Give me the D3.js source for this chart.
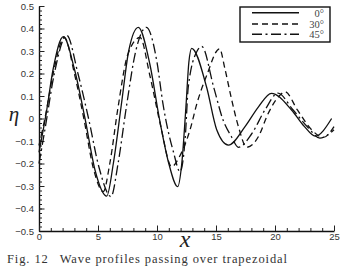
<!DOCTYPE html>
<html>
<head>
<meta charset="utf-8">
<script src="https://cdn.jsdelivr.net/npm/d3@7"></script>
<style>
    body { margin: 0; background: #fff; }
    svg { display: block; }
    .tick text { font-family: "Liberation Sans", Arial, sans-serif; font-size: 9.5px; fill: #333; }
</style>
</head>
<body>
<svg id="chart" width="341" height="270"></svg>
<script>
// wave elevation, one pair of arrays per angle
const x0 = [0, 0.6, 1.2, 2.06, 3.0, 3.9, 4.75, 5.74, 6.3, 7.0, 7.6, 8.42, 9.4, 10.2, 11.0, 11.75, 12.1, 12.45, 12.7, 12.94, 14.2, 15.06, 16.05, 17.46, 18.6, 19.7, 21.4, 22.5, 23.4, 24.8];
const eta0 = [-0.15, 0.02, 0.22, 0.364, 0.22, 0.0, -0.23, -0.345, -0.2, 0.07, 0.3, 0.405, 0.24, 0.0, -0.2, -0.303, -0.2, 0.05, 0.25, 0.312, 0.14, -0.05, -0.118, -0.036, 0.052, 0.112, 0.038, -0.036, -0.078, 0.0];

const x30 = [0, 0.5, 1.2, 2.15, 3.0, 3.8, 4.6, 5.45, 6.0, 6.7, 7.5, 8.56, 9.4, 10.3, 11.24, 11.9, 12.8, 13.4, 14.2, 15.3, 15.76, 16.3, 16.9, 17.6, 18.6, 19.4, 20.3, 20.85, 21.9, 23.1, 24.1, 25];
const eta30 = [-0.12, 0.0, 0.2, 0.36, 0.2, 0.0, -0.22, -0.325, -0.2, 0.05, 0.28, 0.36, 0.19, -0.03, -0.214, -0.17, -0.05, 0.07, 0.19, 0.31, 0.22, 0.09, -0.036, -0.128, -0.08, 0.02, 0.097, 0.119, 0.038, -0.05, -0.084, -0.036];

const x45 = [0, 0.5, 1.3, 2.35, 3.3, 4.2, 5.1, 6.1, 6.7, 7.4, 8.2, 9.1, 10.0, 10.5, 11.4, 11.95, 12.4, 12.65, 13.4, 13.8, 14.8, 15.6, 16.3, 16.9, 18.0, 19.15, 20.25, 21.5, 22.8, 23.8, 25];
const eta45 = [-0.2, -0.05, 0.2, 0.37, 0.2, 0.0, -0.22, -0.347, -0.2, 0.05, 0.3, 0.405, 0.25, 0.067, -0.15, -0.236, -0.08, 0.14, 0.3, 0.32, 0.14, -0.007, -0.08, -0.128, -0.07, 0.038, 0.113, 0.04, -0.04, -0.087, -0.05];

const seriesNames = ["0°", "30°", "45°"];
const dashes = [null, "6,4", "10,3.5,2,3.5"];

const xTicks = [0, 5, 10, 15, 20, 25];
const yTicks = [-0.5, -0.4, -0.3, -0.2, -0.1, 0, 0.1, 0.2, 0.3, 0.4, 0.5];

const caption = "Fig. 12\u2002 Wave profiles passing over trapezoidal";

const svg = d3.select("#chart");

const x = d3.scaleLinear().domain([0, 25]).range([39, 334]);
const y = d3.scaleLinear().domain([-0.5, 0.5]).range([231, 6]);

const series = [
    {name: seriesNames[0], dash: dashes[0], pts: x0.map((v, i) => [v, eta0[i]])},
    {name: seriesNames[1], dash: dashes[1], pts: x30.map((v, i) => [v, eta30[i]])},
    {name: seriesNames[2], dash: dashes[2], pts: x45.map((v, i) => [v, eta45[i]])}
];

// axes: ticks point inward, minor ticks drawn as a second axis
const yMinor = d3.range(-0.5, 0.5001, 0.02);
const xMinor = d3.range(0, 25.001, 1);

svg.append("g")
    .attr("transform", `translate(${x(0)},0)`)
    .call(d3.axisLeft(y).tickValues(yMinor).tickSize(-3).tickSizeOuter(0).tickFormat(""))
    .call(g => g.select(".domain").remove());

svg.append("g")
    .attr("transform", `translate(${x(0)},0)`)
    .call(d3.axisLeft(y).tickValues(yTicks).tickSize(-5.5).tickSizeOuter(0).tickPadding(5)
        .tickFormat(d => d === 0 ? "0" : d3.format(".1f")(d)));

svg.append("g")
    .attr("transform", `translate(0,${y(-0.5)})`)
    .call(d3.axisBottom(x).tickValues(xMinor).tickSize(-3).tickSizeOuter(0).tickFormat(""))
    .call(g => g.select(".domain").remove());

svg.append("g")
    .attr("transform", `translate(0,${y(-0.5)})`)
    .call(d3.axisBottom(x).tickValues(xTicks).tickSize(-5.5).tickSizeOuter(0).tickPadding(2));

svg.selectAll(".domain").attr("stroke", "#111").attr("stroke-width", 1.4);
svg.selectAll(".tick line").attr("stroke", "#222");

// profiles
const line = d3.line()
    .x(d => x(d[0]))
    .y(d => y(d[1]))
    .curve(d3.curveMonotoneX);

svg.append("g")
    .selectAll("path")
    .data(series)
    .join("path")
    .attr("d", d => line(d.pts))
    .attr("fill", "none")
    .attr("stroke", "#111")
    .attr("stroke-width", 1.3)
    .attr("stroke-dasharray", d => d.dash);

// legend
const legend = svg.append("g");
legend.append("rect")
    .attr("x", 240).attr("y", 7)
    .attr("width", 90).attr("height", 35)
    .attr("fill", "#fff")
    .attr("stroke", "#111")
    .attr("stroke-width", 1.4);

const rowY = [12.7, 24, 34.3];
legend.selectAll("line")
    .data(series)
    .join("line")
    .attr("x1", 252).attr("x2", 299)
    .attr("y1", (d, i) => rowY[i]).attr("y2", (d, i) => rowY[i])
    .attr("stroke", "#111")
    .attr("stroke-width", 1.5)
    .attr("stroke-dasharray", d => d.dash);

legend.selectAll("text")
    .data(series)
    .join("text")
    .attr("x", 324)
    .attr("y", (d, i) => rowY[i] + 4)
    .attr("text-anchor", "end")
    .attr("font-family", "Liberation Serif, serif")
    .attr("font-size", 10.5)
    .attr("fill", "#444")
    .text(d => d.name);

// axis titles
svg.append("text")
    .attr("x", 14).attr("y", 121)
    .attr("text-anchor", "middle")
    .attr("font-family", "Liberation Serif, serif")
    .attr("font-style", "italic")
    .attr("font-size", 21)
    .attr("fill", "#222")
    .text("η");

svg.append("text")
    .attr("x", 185).attr("y", 247)
    .attr("text-anchor", "middle")
    .attr("font-family", "Liberation Serif, serif")
    .attr("font-style", "italic")
    .attr("font-size", 24)
    .attr("fill", "#222")
    .text("x");

svg.append("text")
    .attr("x", 7).attr("y", 263)
    .attr("font-family", "Liberation Serif, serif")
    .attr("font-size", 12.5)
    .attr("fill", "#333")
    .attr("textLength", 280)
    .attr("lengthAdjust", "spacing")
    .text(caption);
</script>
</body>
</html>
